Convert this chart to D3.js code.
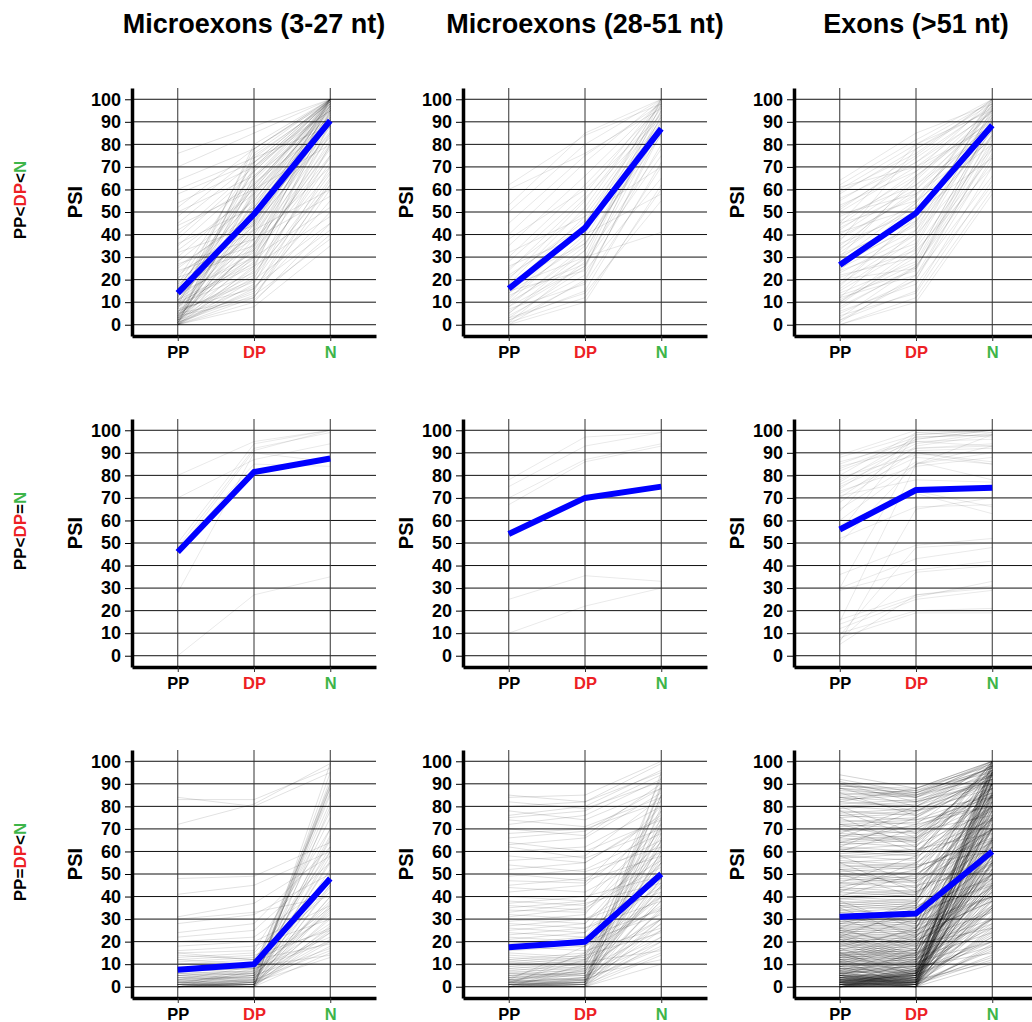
<!DOCTYPE html>
<html>
<head>
<meta charset="utf-8">
<script src="https://cdn.jsdelivr.net/npm/d3@7"></script>
<style>
  body { margin: 0; background: #fff; }
  svg { display: block; font-family: "Liberation Sans", Arial, Helvetica, sans-serif; }
</style>
</head>
<body>
<svg id="chart" width="1032" height="1022"></svg>
<script>
// column titles, row labels, x categories
var colTitles = ["Microexons (3-27 nt)", "Microexons (28-51 nt)", "Exons (>51 nt)"];
var rowLabels = [
  [["PP", "#000"], ["<", "#000"], ["DP", "#ED2024"], ["<", "#000"], ["N", "#3DB549"]],
  [["PP", "#000"], ["<", "#000"], ["DP", "#ED2024"], ["=", "#000"], ["N", "#3DB549"]],
  [["PP", "#000"], ["=", "#000"], ["DP", "#ED2024"], ["<", "#000"], ["N", "#3DB549"]]
];
var stages = ["PP", "DP", "N"];
var stageColors = ["#000", "#ED2024", "#3DB549"];
var psiTicks = [0, 10, 20, 30, 40, 50, 60, 70, 80, 90, 100];

// mean PSI per panel (blue line), rows x cols, values [PP, DP, N]
var meanPSI = [
  [[14, 49, 90.5], [16, 43, 87], [26.5, 49.5, 88.5]],
  [[46, 81.5, 87.5], [54, 70, 75], [56, 73.5, 74.5]],
  [[7.5, 10, 48], [17.5, 20, 50], [31, 32.5, 60]]
];

// individual exons, [PP, DP, N]
var exonsR1C1 = [[0,10,45],[0,12,60],[1,15,70],[0,20,90],[2,25,95],[0,30,100],[1,35,98],[3,40,92],[0,45,100],[2,50,97],[4,55,100],[1,60,99],[0,18,80],[5,22,75],[3,28,85],[6,33,88],[2,38,95],[8,42,100],[4,47,90],[7,52,96],[1,58,100],[9,62,98],[3,66,100],[10,70,100],[5,74,99],[12,78,100],[2,14,50],[6,19,65],[0,24,72],[8,29,82],[11,36,91],[13,44,99],[15,48,94],[10,53,100],[14,57,97],[16,61,100],[12,65,98],[18,68,100],[20,72,100],[17,56,93],[19,46,89],[15,40,86],[13,32,78],[11,27,68],[9,23,62],[7,16,55],[4,11,40],[0,8,35],[22,45,90],[25,50,95],[28,55,98],[30,60,100],[33,58,96],[35,65,100],[38,68,99],[40,70,100],[42,62,97],[45,72,100],[48,75,98],[52,78,100],[54,70,95],[64,78,99],[70,85,100],[76,88,100],[24,35,80],[27,38,70],[32,44,85],[36,52,90],[44,60,80],[50,66,92],[58,72,95],[60,74,88],[26,48,100],[21,33,75],[23,42,60],[18,38,57],[14,30,52],[10,26,48],[6,20,45],[3,17,42],[1,13,38],[0,16,62],[2,21,67],[4,31,79],[0,36,84],[1,43,88],[3,49,93],[5,54,91],[0,59,95],[2,64,97],[7,69,99],[0,76,100],[8,80,100],[5,12,64],[9,30,74],[11,50,83],[16,63,88],[13,41,97],[0,26,92],[1,46,96],[2,52,99],[4,34,94]];
var exonsR1C2 = [[1,12,60],[2,15,72],[0,20,85],[3,25,95],[1,28,98],[5,30,100],[8,35,92],[10,40,97],[4,22,80],[6,26,88],[9,33,90],[12,38,95],[14,42,100],[11,45,99],[16,48,94],[18,52,100],[20,55,98],[7,18,70],[13,27,75],[15,24,65],[19,36,86],[22,44,90],[25,50,96],[28,58,100],[30,62,97],[35,66,99],[40,72,100],[45,75,98],[50,80,100],[53,85,100],[60,76,96],[62,84,98],[38,60,93],[32,48,70],[26,40,58],[17,30,41],[3,14,55],[0,10,62],[2,19,87],[8,26,93],[14,36,84],[21,46,91],[5,33,89],[10,29,78],[24,56,92]];
var exonsR1C3 = [[0,12,60],[2,15,70],[5,20,80],[8,25,85],[10,30,90],[12,22,78],[14,28,88],[15,35,92],[18,40,95],[20,25,82],[22,30,90],[24,36,96],[25,42,100],[26,45,98],[28,50,93],[30,48,90],[32,55,96],[34,52,100],[35,60,95],[38,58,88],[40,62,92],[42,65,97],[44,68,100],[45,55,80],[48,62,86],[50,70,95],[52,72,98],[55,75,100],[58,78,96],[60,80,99],[62,82,100],[64,85,98],[1,22,66],[3,26,72],[6,18,62],[9,32,75],[11,27,84],[13,24,91],[16,38,94],[19,46,97],[21,33,70],[23,40,78],[27,44,86],[29,54,99],[31,46,84],[33,64,95],[36,50,74],[39,57,90],[41,52,83],[43,60,89],[46,66,93],[49,58,82],[51,74,97],[53,68,90],[56,72,94],[59,76,100],[61,70,88],[0,10,58],[4,14,64],[7,26,76],[10,34,80],[17,48,92],[37,78,98],[24,54,87],[30,66,91],[45,80,95],[12,42,86],[2,20,74]];
var exonsR2C1 = [[80,95,100],[70,87,94],[50,94,100],[48,92,99],[46,91,100],[28,90,86],[0,27,35],[47,85,84]];
var exonsR2C2 = [[78,97,99],[75,93,99],[70,87,94],[67,86,93],[25,35.5,33],[10,22,30]];
var exonsR2C3 = [[89,100,99],[88,98,100],[85,97,98],[83,96,100],[82,95,93],[80,99,97],[78,94,99],[76,92,93],[75,90,86],[74,96,100],[72,88,85],[70,93,98],[68,91,92],[65,86,78],[64,99,100],[60,85,90],[58,73,66],[57,72,63],[55,98,100],[52,66,67],[50,85,93],[36,49,52],[30,43,48],[29,38,42],[16,27,30],[14,26,33],[12,25,29],[10,20,21],[8,19,19],[5,27,31],[9,48,50],[7,37,40],[6,65,70],[15,85,98],[30,90,85],[86,95,96],[84,92,94],[79,89,90],[77,97,98],[73,84,88],[71,78,77]];
var exonsR3C1 = [[0,0,15],[0,1,20],[1,1,25],[0,2,30],[1,0,35],[2,2,40],[0,0,45],[1,3,50],[0,1,60],[2,1,70],[0,0,80],[1,2,88],[0,3,90],[3,4,85],[2,5,65],[4,3,55],[5,6,45],[3,5,38],[6,7,33],[4,6,28],[5,4,24],[7,8,20],[6,5,17],[8,9,14],[9,8,22],[10,12,26],[12,10,35],[11,13,42],[13,15,48],[14,12,60],[15,16,70],[8,6,75],[7,5,82],[0,1,89],[1,0,92],[2,0,95],[0,0,99],[3,2,26],[1,1,18],[0,2,13],[2,3,16],[4,2,21],[0,4,34],[1,5,37],[3,1,44],[5,2,52],[6,3,58],[2,6,62],[0,7,67],[1,8,78],[3,9,86],[16,18,30],[18,20,36],[20,22,46],[22,25,55],[24,28,62],[28,32,50],[30,33,40],[31,37,58],[41,45,60],[48,49,64],[72,81,99],[83,83,97],[84,80,95],[10,10,32],[12,14,25],[15,12,19],[0,0,24],[1,0,27],[0,1,31],[2,1,36],[0,0,40],[1,1,48],[0,2,56],[4,4,66],[5,7,88],[7,8,90]];
var exonsR3C2 = [[0,0,10],[0,1,15],[1,0,20],[0,2,25],[1,1,30],[2,0,35],[0,1,40],[1,3,45],[2,2,50],[0,0,55],[1,2,60],[3,1,65],[0,3,70],[2,4,75],[1,0,80],[0,2,85],[3,3,90],[2,1,95],[4,5,12],[5,3,18],[3,6,22],[6,4,28],[4,7,33],[7,5,38],[5,8,42],[8,6,48],[6,9,52],[9,7,58],[7,10,63],[10,8,68],[8,11,72],[11,9,78],[9,12,83],[12,10,88],[10,13,93],[13,11,16],[11,14,24],[14,12,30],[12,15,36],[15,13,41],[16,18,46],[18,16,26],[17,20,32],[20,18,40],[19,22,55],[22,20,62],[21,24,70],[24,22,34],[23,26,44],[26,24,50],[25,28,58],[28,26,38],[27,30,48],[30,28,66],[29,32,74],[32,30,42],[31,35,53],[34,33,60],[33,37,46],[36,34,64],[35,38,78],[38,36,56],[37,40,49],[40,38,70],[42,45,72],[44,42,60],[45,48,65],[47,46,80],[49,52,68],[50,47,58],[52,55,75],[54,51,62],[56,58,84],[58,55,76],[60,62,80],[62,57,70],[63,66,86],[64,60,74],[66,69,88],[68,70,82],[70,67,90],[72,76,92],[74,71,84],[75,78,94],[76,80,96],[78,74,88],[80,82,99],[82,79,91],[84,85,100],[85,82,95],[0,0,14],[1,1,22],[0,0,28],[2,3,17],[1,2,34],[0,1,48],[3,2,57],[0,0,89],[1,2,73],[4,3,30],[2,4,38],[5,6,44],[6,5,20],
  [0,8,25],[2,12,40],[1,15,55],[3,18,35],[0,10,65],[4,14,50],[1,6,85],[2,9,30],[0,4,60],[3,7,45]];
var exonsR3C3 = [[0,0,10],[0,1,14],[1,0,18],[0,2,22],[1,1,26],[2,0,30],[0,3,34],[1,2,38],[2,1,42],[0,0,46],[3,2,50],[1,4,54],[2,3,58],[0,1,62],[4,2,66],[1,0,70],[3,4,74],[0,2,78],[2,5,82],[4,3,86],[1,1,90],[5,2,94],[0,4,98],[3,1,12],[2,2,16],[4,5,20],[5,3,24],[1,6,28],[3,0,32],[0,5,36],[4,1,40],[2,6,44],[5,4,48],[1,3,52],[0,0,56],[3,5,60],[2,0,64],[4,6,68],[5,1,72],[0,3,76],[1,5,80],[3,2,84],[2,4,88],[4,0,92],[0,6,96],[5,5,100],
  [6,8,18],[7,5,22],[8,10,26],[9,7,30],[10,12,34],[11,9,38],[12,14,42],[13,11,46],[14,16,50],[15,13,54],[6,4,58],[7,9,62],[8,6,66],[9,11,70],[10,8,74],[11,13,78],[12,10,82],[13,15,86],[14,12,90],[15,17,94],[6,7,98],[8,9,15],[10,11,20],[12,13,24],[14,15,28],[7,6,35],[9,10,45],[11,12,55],[13,14,65],[15,16,75],[6,9,85],[8,7,95],
  [16,18,30],[17,15,36],[18,20,42],[19,17,48],[20,22,54],[21,19,60],[22,24,66],[23,21,72],[24,26,78],[25,23,84],[26,28,90],[27,25,96],[28,30,100],[29,27,40],[30,32,46],[16,14,52],[18,16,58],[20,18,64],[22,20,70],[24,22,76],[26,24,82],[28,26,88],[30,28,94],[17,19,26],[19,21,33],[21,23,38],[23,25,44],[25,27,50],[27,29,56],[29,31,62],
  [31,33,45],[32,30,50],[33,35,55],[34,32,60],[35,37,65],[36,34,70],[37,39,75],[38,36,80],[39,41,85],[40,38,90],[41,43,95],[42,40,100],[43,45,52],[44,42,58],[45,47,64],[46,44,70],[47,49,76],[48,46,82],[49,51,88],[50,48,94],[31,29,40],[34,36,48],[37,35,56],[40,42,62],[43,41,68],[46,48,74],[49,47,80],[33,31,86],[36,38,92],[39,37,98],
  [51,53,65],[52,50,70],[53,55,75],[54,52,80],[55,57,85],[56,54,90],[57,59,95],[58,56,100],[59,61,68],[60,58,72],[61,63,78],[62,60,84],[63,65,88],[64,62,92],[65,67,96],[66,64,99],[67,69,76],[68,66,82],[69,71,86],[70,68,94],[52,54,60],[55,53,66],[58,60,74],[61,59,80],[64,66,90],[67,65,98],
  [71,73,84],[72,70,88],[73,75,92],[74,72,96],[75,77,100],[76,74,86],[77,79,90],[78,76,94],[79,81,98],[80,78,88],[81,83,92],[82,80,96],[83,85,99],[84,82,90],[85,87,95],[86,84,100],[87,85,93],[88,86,97],[89,87,99],[90,85,96],[72,74,80],[76,78,84],[80,82,91],[84,86,97],[88,84,94],[94,88,98],
  [2,8,20],[8,2,25],[3,10,30],[10,3,35],[0,8,40],[7,0,45],[4,12,50],[12,4,55],[1,9,60],[9,1,65],[5,14,70],[14,5,75],[2,11,80],[11,2,85],[6,15,90],[15,6,95],[0,7,100],[3,3,11],[1,2,13],[0,1,17],[2,0,19],[4,4,23],[3,6,27],[5,2,31],[1,4,35],[0,0,39],[6,3,43],[2,7,47],[4,1,51],[3,5,55],[0,2,59],[5,0,63],[1,6,67],[2,3,71],[4,7,75],[6,1,79],[0,4,83],[3,0,87],[5,6,91],[1,2,95],[2,5,99],
  [18,25,40],[25,18,45],[20,30,55],[30,20,50],[22,35,60],[35,22,65],[24,32,70],[32,24,75],[26,38,80],[38,26,85],[28,36,90],[36,28,95],[40,50,70],[50,40,75],[42,55,80],[55,42,85],[44,52,90],[52,44,95],[46,58,100],[58,46,70],[60,70,85],[70,60,90],[62,75,95],[75,62,100],[64,72,80],[72,64,88],[66,78,92],[78,66,96],[68,80,98],[80,68,84],[82,88,100],[88,80,92],[90,82,98],[92,86,100],[86,76,90],[84,78,94],[91,84,97],[89,88,100],
  [10,20,40],[20,10,45],[12,22,60],[22,12,30],[14,24,50],[24,14,35],[16,26,70],[26,16,55],[5,15,80],[15,5,65],[7,17,90],[17,7,44],[9,19,52],[19,9,36],[11,21,48],[21,11,58],[13,23,38],[23,13,62]];

var exonGrid = [
  [exonsR1C1, exonsR1C2, exonsR1C3],
  [exonsR2C1, exonsR2C2, exonsR2C3],
  [exonsR3C1, exonsR3C2, exonsR3C3]
];
// line opacity per panel (fewer drawn lines in dense panels -> darker)
var lineAlpha = [
  [0.14, 0.12, 0.12],
  [0.11, 0.11, 0.11],
  [0.15, 0.16, 0.22]
];

var svg = d3.select("#chart");
var pw = 244, ph = 248, step = 331, x0 = 132, y0 = 88;

var x = d3.scaleLinear().domain([0.4, 3.6]).range([0, pw]);
var y = d3.scaleLinear().domain([-5, 105]).range([ph, 0]);
var line = d3.line().x(function (d, i) { return x(i + 1); }).y(function (d) { return y(d); });

// column titles
svg.selectAll(".col-title")
  .data(colTitles)
  .enter().append("text")
    .attr("class", "col-title")
    .attr("x", function (d, i) { return x0 + i * step + x(2); })
    .attr("y", 33)
    .attr("text-anchor", "middle")
    .attr("font-size", 27)
    .attr("font-weight", "bold")
    .text(function (d) { return d; });

// row labels
rowLabels.forEach(function (parts, r) {
  var t = svg.append("text")
    .attr("transform", "translate(26," + (y0 + r * step + 112) + ") rotate(-90)")
    .attr("text-anchor", "middle")
    .attr("font-size", 17)
    .attr("font-weight", "bold");
  parts.forEach(function (p) {
    t.append("tspan").attr("fill", p[1]).text(p[0]);
  });
});

for (var r = 0; r < 3; r++) {
  for (var c = 0; c < 3; c++) {
    var g = svg.append("g")
      .attr("transform", "translate(" + (x0 + c * step) + "," + (y0 + r * step) + ")");

    // horizontal grid
    g.append("g").selectAll("line")
      .data(psiTicks)
      .enter().append("line")
        .attr("x1", 0).attr("x2", pw)
        .attr("y1", function (d) { return y(d); })
        .attr("y2", function (d) { return y(d); })
        .attr("stroke", "#111")
        .attr("stroke-width", 1);

    // vertical grid
    g.append("g").selectAll("line")
      .data([1, 2, 3])
      .enter().append("line")
        .attr("x1", function (d) { return x(d); })
        .attr("x2", function (d) { return x(d); })
        .attr("y1", 0).attr("y2", ph)
        .attr("stroke", "#333")
        .attr("stroke-width", 1);

    // individual exons
    g.append("g").selectAll("path")
      .data(exonGrid[r][c])
      .enter().append("path")
        .attr("d", line)
        .attr("fill", "none")
        .attr("stroke", "#000")
        .attr("stroke-opacity", lineAlpha[r][c])
        .attr("stroke-width", 0.8);

    // mean
    g.append("path")
      .datum(meanPSI[r][c])
      .attr("d", line)
      .attr("fill", "none")
      .attr("stroke", "#0000FF")
      .attr("stroke-width", 6)
      .attr("stroke-linejoin", "round");

    // y axis
    var ya = g.append("g")
      .call(d3.axisLeft(y).tickValues(psiTicks).tickSize(7).tickSizeOuter(0).tickPadding(4));
    ya.select(".domain").attr("stroke-width", 3.5);
    ya.selectAll(".tick line").attr("stroke", "#000").attr("stroke-width", 1);
    ya.selectAll(".tick text")
      .attr("font-family", "Liberation Sans, Arial, sans-serif")
      .attr("font-size", 18).attr("font-weight", "bold").attr("fill", "#000");

    // x axis
    var xa = g.append("g")
      .attr("transform", "translate(0," + ph + ")")
      .call(d3.axisBottom(x).tickValues([1, 2, 3]).tickSize(5).tickSizeOuter(0).tickPadding(5)
        .tickFormat(function (d) { return stages[d - 1]; }));
    xa.select(".domain").attr("stroke-width", 3.5);
    xa.selectAll(".tick line").attr("stroke", "#333");
    xa.selectAll(".tick text")
      .attr("font-family", "Liberation Sans, Arial, sans-serif")
      .attr("font-size", 16.5).attr("font-weight", "bold")
      .attr("fill", function (d) { return stageColors[d - 1]; });

    // PSI label
    g.append("text")
      .attr("transform", "translate(-50," + 114 + ") rotate(-90)")
      .attr("text-anchor", "middle")
      .attr("font-size", 20)
      .attr("font-weight", "bold")
      .text("PSI");
  }
}
</script>
</body>
</html>
